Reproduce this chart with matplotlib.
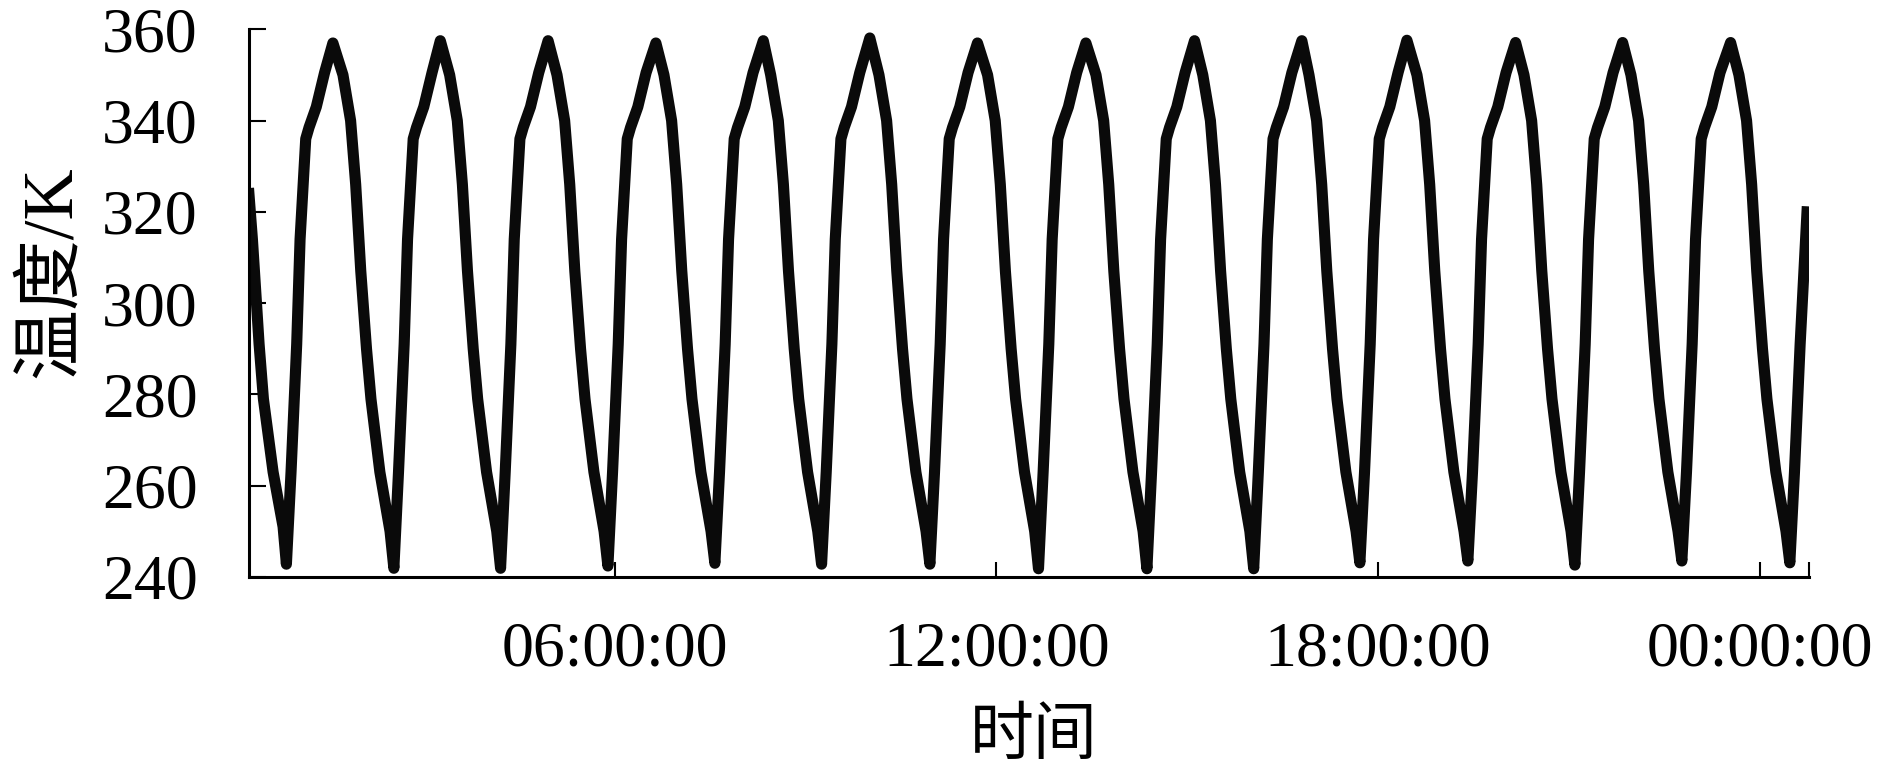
import matplotlib
import numpy as np

matplotlib.use("Agg")
import matplotlib.pyplot as plt

# time axis in hours since 00:00:00 of the first day
trough_hours = [0.842, 2.531, 4.208, 5.895, 7.576, 9.253, 10.955, 12.662,
                14.366, 16.044, 17.713, 19.410, 21.092, 22.773, 24.470]
trough_temps = [242.8, 241.9, 241.9, 242.4, 243.0, 242.8, 242.8, 241.8,
                241.8, 241.8, 243.1, 243.5, 242.6, 243.5, 243.1]
peak_hours = [1.573, 3.261, 4.955, 6.649, 8.337, 10.011, 11.703, 13.407,
              15.114, 16.801, 18.452, 20.160, 21.842, 23.539]
peak_temps = [357.0, 357.5, 357.5, 357.0, 357.5, 358.1, 357.0, 357.0,
              357.5, 357.5, 357.6, 357.1, 357.1, 357.1]

# heating branch, hours after each trough
rise_offsets = [0.073, 0.162, 0.215, 0.304, 0.356, 0.47, 0.60]
rise_temps = [263, 291, 314, 336, 338.5, 343, 350.5]
# cooling branch, hours before the next trough
fall_offsets = [-0.80, -0.68, -0.60, -0.52, -0.43, -0.36, -0.22, -0.06]
fall_temps = [350, 340, 326, 307, 290, 279, 263, 250]

# start and end of the record
lead_hours = [0.253, 0.308, 0.413, 0.481, 0.633, 0.790]
lead_temps = [324, 314, 291, 279, 263, 251]
tail_offsets = [0.073, 0.162, 0.27]
tail_temps = [263, 291, 320]

tick_hours = [6, 12, 18, 24]
tick_labels = ["06:00:00", "12:00:00", "18:00:00", "00:00:00"]
x_start, x_end = 0.253, 24.77

t = list(lead_hours)
temp = list(lead_temps)
for i in range(len(peak_hours)):
    t.append(trough_hours[i])
    temp.append(trough_temps[i])
    t += [trough_hours[i] + d for d in rise_offsets]
    temp += rise_temps
    t.append(peak_hours[i])
    temp.append(peak_temps[i])
    t += [trough_hours[i + 1] + d for d in fall_offsets]
    temp += fall_temps
t.append(trough_hours[-1])
temp.append(trough_temps[-1])
t += [trough_hours[-1] + d for d in tail_offsets]
temp += tail_temps

serif = "Liberation Serif"
cjk = [serif, "Noto Sans CJK SC"]
plt.rcParams["font.family"] = cjk

fig = plt.figure(figsize=(18.9, 7.65), dpi=100)
ax = fig.add_axes([0.1317, 0.2458, 0.8254, 0.7159])

ax.plot(np.array(t), np.array(temp), color="#0a0a0a", lw=8)

ax.set_xlim(x_start, x_end)
ax.set_ylim(240, 360)
ax.set_yticks(np.arange(240, 361, 20))
ax.set_xticks(tick_hours, labels=tick_labels)
ax.set_xticks([x_end], minor=True)

for s in ["top", "right"]:
    ax.spines[s].set_visible(False)
for s in ["left", "bottom"]:
    ax.spines[s].set_linewidth(2.2)

ax.tick_params(axis="y", direction="in", length=12, width=1.5, pad=37,
               labelsize=46)
ax.tick_params(axis="x", which="both", direction="in", length=11, width=1.5,
               pad=32, labelsize=46)
for lab in ax.get_xticklabels() + ax.get_yticklabels():
    lab.set_fontfamily(serif)

ax.set_ylabel("温度/K", fontsize=51, va="center")
ax.yaxis.set_label_coords(-0.126, 0.557)
ax.set_xlabel("时间", fontsize=46, va="center")
ax.xaxis.set_label_coords(0.503, -0.296)

fig.savefig("out.png", dpi=100)
